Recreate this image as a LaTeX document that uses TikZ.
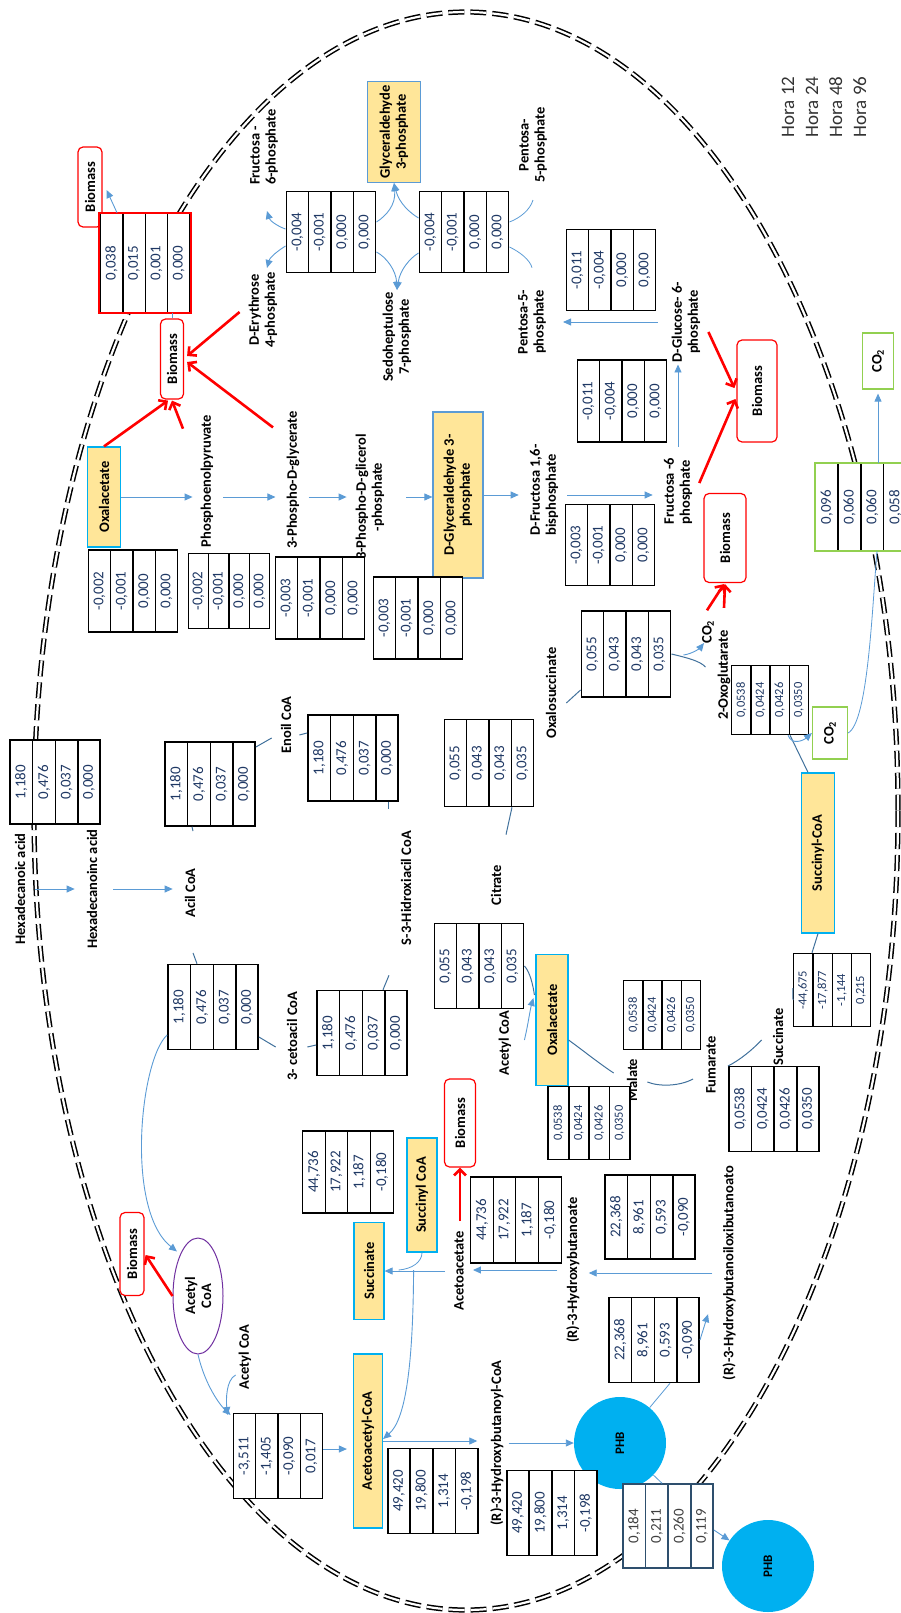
\documentclass[tikz,border=0pt]{standalone}
\usepackage{fontspec}
\setmainfont{Carlito}
\usepackage{tikz}
\usetikzlibrary{shapes,arrows.meta,calc}

\definecolor{fillyel}{HTML}{FFE699}
\definecolor{cyanb}{HTML}{00B0F0}
\definecolor{lblue}{HTML}{5B9BD5}
\definecolor{dblue}{HTML}{41719C}
\definecolor{grn}{HTML}{92D050}
\definecolor{purp}{HTML}{7030A0}
\definecolor{numcol}{HTML}{1F3864}

\newcommand{\lblfnt}{\fontsize{14.5}{16}\selectfont\bfseries}
\newcommand{\numfnt}{\fontsize{15}{17}\selectfont}
\newcommand{\smnumfnt}{\fontsize{12.5}{14}\selectfont}

\begin{document}
\begin{tikzpicture}[x=1pt, y=-1pt,
    lbl/.style={rotate=90, font=\lblfnt, align=center, inner sep=2pt},
    ybox/.style={rotate=90, draw=cyanb, line width=1.2pt, fill=fillyel, font=\lblfnt,
                 align=center, inner sep=1pt},
    bio/.style={rotate=90, draw=red, line width=1.2pt, rounded corners=5pt, fill=white,
                font=\lblfnt, inner sep=1pt},
    co2box/.style={rotate=90, draw=grn, line width=1.2pt, fill=white, font=\lblfnt, inner sep=1pt},
    tab/.style={rectangle split, rectangle split parts=4, draw, line width=1.5pt, rotate=90,
                fill=white, font=\numfnt, text=numcol, minimum width=84pt,
                inner ysep=4.6pt, inner xsep=1pt},
    stab/.style={tab, font=\smnumfnt, minimum width=70pt, inner ysep=3.9pt},
    phb/.style={circle, fill=cyanb, minimum size=92pt, rotate=90, font=\bfseries\fontsize{13}{15}\selectfont},
    cellwall/.style={double, double distance=2.2pt, line width=1.5pt, dash pattern=on 16pt off 6pt},
    barrow/.style={draw=lblue, line width=0.9pt, -{Triangle[length=8pt,width=7pt]}},
    bline/.style={draw=lblue, line width=0.8pt},
    dline/.style={draw=dblue, line width=1pt},
    rarrow/.style={draw=red, line width=2.6pt, -{Straight Barb[length=6pt,width=12pt]}}
]
\useasboundingbox (0,0) rectangle (901,1613);

%% ── Cell wall ────────────────────────────────────────────────────
\draw[cellwall] (466,811) ellipse [x radius=432, y radius=799];

%% ── Legend ───────────────────────────────────────────────────────
\node[lbl, font=\fontsize{19}{24}\selectfont, text=black!80, align=left] (hora) at (824,107)
    {Hora 12\\Hora 24\\Hora 48\\Hora 96};

%% ── Metabolites (labels) ─────────────────────────────────────────
\node[lbl] (hexa1) at (20,889) {Hexadecanoic acid};
\node[lbl] (hexa2) at (92,889) {Hexadecanoinc acid};
\node[lbl] (acil) at (190,893) {Acil CoA};
\node[lbl] (enoil) at (286,725) {Enoil CoA};
\node[lbl] (cetoacil) at (292,1036) {3- cetoacil CoA};
\node[lbl] (shidrox) at (406,888) {S-3-Hidroxiacil CoA};
\node[lbl] (citrate) at (496,885) {Citrate};
\node[lbl] (oxsucc) at (551,693) {Oxalosuccinate};
\node[lbl] (oxoglu) at (724,675) {2-Oxoglutarate};
\node[lbl] (co2a) at (708,632) {CO\textsubscript{2}};
\node[lbl] (malate) at (632,1080) {Malate};
\node[lbl] (fumarate) at (711,1065) {Fumarate};
\node[lbl] (succlbl) at (778,1037) {Succinate};
\node[lbl] (acetylmid) at (505,1043) {Acetyl CoA};
\node[lbl] (pep) at (207,481) {Phosphoenolpyruvate};
\node[lbl] (pg3) at (293,480) {3-Phospho-D-glycerate};
\node[lbl] (pglic) at (370,497) {3-Phospho-D-glicerol\\-phosphate};
\node[lbl, align=left] (fbp) at (544,490) {D-Fructosa 1,6-\\bisphosphate};
\node[lbl, align=left] (f6p) at (678,491) {Fructosa -6\\phosphate};
\node[lbl] (g6p) at (686,322) {D-Glucose- 6-\\phosphate};
\node[lbl] (p5pa) at (532,322) {Pentosa-5-\\phosphate};
\node[lbl] (p5pb) at (533,145) {Pentosa-\\5-phosphate};
\node[lbl] (sed7p) at (397,337) {Sedoheptulose\\7-phosphate};
\node[lbl, align=left] (fru6p) at (264,147) {Fructosa -\\6-phosphate};
\node[lbl] (ery4p) at (263,310) {D-Erythrose\\4-phosphate};
\node[lbl] (acetoacetate) at (459,1271) {Acetoacetate};
\node[lbl] (r3hb) at (573,1270) {(R)-3-Hydroxybutanoate};
\node[lbl] (r3hbox) at (729,1273) {(R)-3-Hydroxybutanoiloxibutanoato};
\node[lbl] (r3hbcoa) at (497,1443) {(R)-3-Hydroxybutanoyl-CoA};
\node[lbl] (acetylbot) at (245,1357) {Acetyl CoA};

%% ── Key metabolites (boxes) ──────────────────────────────────────
\node[ybox, draw=lblue, minimum width=101pt, minimum height=53pt] (g3p) at (394,132) {Glyceraldehyde\\3-phosphate};
\node[ybox, minimum width=100pt, minimum height=33pt] (oxa1) at (104,497) {Oxalacetate};
\node[ybox, draw=lblue, minimum width=166pt, minimum height=50pt] (dg3p) at (458,495) {D-Glyceraldehyde 3-\\phosphate};
\node[ybox, minimum width=131pt, minimum height=32pt] (oxa2) at (552,1020) {Oxalacetate};
\node[ybox, minimum width=160pt, minimum height=33pt] (succoa) at (818,853) {Succinyl-CoA};
\node[ybox, minimum width=114pt, minimum height=30pt] (succoa2) at (422,1195) {Succinyl CoA};
\node[ybox, minimum width=97pt, minimum height=30pt] (succ) at (369,1271) {Succinate};
\node[ybox, minimum width=174pt, minimum height=29pt] (aacoa) at (368,1441) {Acetoacetyl-CoA};

\node[ellipse, draw=purp, line width=1pt, rotate=90, minimum width=116pt, minimum height=50pt,
      align=center, font=\lblfnt, inner sep=0pt] (acetyl) at (198,1296) {Acetyl\\CoA};
\node[phb] (phb1) at (620,1443) {PHB};
\node[phb] (phb2) at (768,1566) {PHB};

%% ── Biomass and CO2 sinks ────────────────────────────────────────
\node[bio, minimum width=80pt, minimum height=24pt] (bm1) at (90,187) {Biomass};
\node[bio, minimum width=80pt, minimum height=23pt] (bm2) at (172,359) {Biomass};
\node[bio, minimum width=102pt, minimum height=40pt] (bm3) at (757,391) {Biomass};
\node[bio, minimum width=89pt, minimum height=42pt] (bm4) at (725,538) {Biomass};
\node[bio, minimum width=88pt, minimum height=31pt] (bm5) at (460,1123) {Biomass};
\node[bio, minimum width=83pt, minimum height=24pt] (bm6) at (132,1254) {Biomass};
\node[co2box, minimum width=56pt, minimum height=31pt] (co2b) at (878,361) {CO\textsubscript{2}};
\node[co2box, minimum width=52pt, minimum height=35pt] (co2c) at (830,733) {CO\textsubscript{2}};

%% ── Flux tables (h 12 / 24 / 48 / 96) ────────────────────────────
\node[tab, minimum width=99pt] (tBm) at (145,263) {0,038\nodepart{two}0,015\nodepart{three}0,001\nodepart{four}0,000};
\draw[red, line width=1.6pt] (tBm.north west) rectangle (tBm.south east);
\node[tab, minimum width=81pt] (tF6) at (331,232) {-0,004\nodepart{two}-0,001\nodepart{three}0,000\nodepart{four}0,000};
\node[tab, minimum width=81pt] (tS7) at (464,232) {-0,004\nodepart{two}-0,001\nodepart{three}0,000\nodepart{four}0,000};
\node[tab, minimum width=81pt] (tP5) at (611,270) {-0,011\nodepart{two}-0,004\nodepart{three}0,000\nodepart{four}0,000};
\node[tab, minimum width=82pt] (tG6) at (622,401) {-0,011\nodepart{two}-0,004\nodepart{three}0,000\nodepart{four}0,000};
\node[tab, minimum width=82pt] (tOxa) at (133,591) {-0,002\nodepart{two}-0,001\nodepart{three}0,000\nodepart{four}0,000};
\node[tab, minimum width=75pt, inner ysep=3.6pt] (tPep) at (229,591) {-0,002\nodepart{two}-0,001\nodepart{three}0,000\nodepart{four}0,000};
\node[tab, minimum width=82pt] (t3pg) at (320,598) {-0,003\nodepart{two}-0,001\nodepart{three}0,000\nodepart{four}0,000};
\node[tab, minimum width=82pt] (tDg3p) at (418,618) {-0,003\nodepart{two}-0,001\nodepart{three}0,000\nodepart{four}0,000};
\node[tab, minimum width=81pt] (tFbp) at (610,545) {-0,003\nodepart{two}-0,001\nodepart{three}0,000\nodepart{four}0,000};
\node[tab] (tHexa) at (55,782) {1,180\nodepart{two}0,476\nodepart{three}0,037\nodepart{four}0,000};
\node[tab] (tEnoil) at (210,784) {1,180\nodepart{two}0,476\nodepart{three}0,037\nodepart{four}0,000};
\node[tab, minimum width=86pt] (tShid) at (353,758) {1,180\nodepart{two}0,476\nodepart{three}0,037\nodepart{four}0,000};
\node[tab, minimum width=87pt] (tCit) at (489,763) {0,055\nodepart{two}0,043\nodepart{three}0,043\nodepart{four}0,035};
\node[tab, minimum width=86pt] (tOxs) at (626,654) {0,055\nodepart{two}0,043\nodepart{three}0,043\nodepart{four}0,035};
\node[stab, minimum width=69pt] (tOxg) at (770,700) {0,0538\nodepart{two}0,0424\nodepart{three}0,0426\nodepart{four}0,0350};
\node[tab, minimum width=87pt] (tGreen) at (861,507) {0,096\nodepart{two}0,060\nodepart{three}0,060\nodepart{four}0,058};
\draw[grn, line width=1.6pt] (tGreen.north west) rectangle (tGreen.south east);
\node[tab, minimum width=85pt] (tAcil) at (213,1007) {1,180\nodepart{two}0,476\nodepart{three}0,037\nodepart{four}0,000};
\node[tab, minimum width=85pt] (tCeto) at (362,1033) {1,180\nodepart{two}0,476\nodepart{three}0,037\nodepart{four}0,000};
\node[tab, minimum width=85pt] (tCitb) at (479,966) {0,055\nodepart{two}0,043\nodepart{three}0,043\nodepart{four}0,035};
\node[stab, minimum width=73pt, inner ysep=4.5pt] (tMal) at (589,1123) {0,0538\nodepart{two}0,0424\nodepart{three}0,0426\nodepart{four}0,0350};
\node[stab, minimum width=69pt] (tFum) at (662,1015) {0,0538\nodepart{two}0,0424\nodepart{three}0,0426\nodepart{four}0,0350};
\node[stab, minimum width=73pt] (tSucc) at (832,990) {-44,675\nodepart{two}-17,877\nodepart{three}-1,144\nodepart{four}0,215};
\node[tab, minimum width=85pt] (tSuc2) at (774,1109) {0,0538\nodepart{two}0,0424\nodepart{three}0,0426\nodepart{four}0,0350};
\node[tab, minimum width=82pt] (tScoa) at (348,1172) {44,736\nodepart{two}17,922\nodepart{three}1,187\nodepart{four}-0,180};
\node[tab, minimum width=86pt] (tAa) at (516,1220) {44,736\nodepart{two}17,922\nodepart{three}1,187\nodepart{four}-0,180};
\node[tab] (tHb) at (650,1217) {22,368\nodepart{two}8,961\nodepart{three}0,593\nodepart{four}-0,090};
\node[tab, minimum width=85pt] (tHbo) at (654,1340) {22,368\nodepart{two}8,961\nodepart{three}0,593\nodepart{four}-0,090};
\node[tab, minimum width=85pt] (tAcet) at (278,1456) {-3,511\nodepart{two}-1,405\nodepart{three}-0,090\nodepart{four}0,017};
\node[tab, minimum width=85pt] (tAacoa) at (433,1491) {49,420\nodepart{two}19,800\nodepart{three}1,314\nodepart{four}-0,198};
\node[tab, minimum width=85pt] (tHbcoa) at (552,1513) {49,420\nodepart{two}19,800\nodepart{three}1,314\nodepart{four}-0,198};
\node[tab, draw=dblue!70!black, text=black!75] (tPhb) at (668,1526) {0,184\nodepart{two}0,211\nodepart{three}0,260\nodepart{four}0,119};

%% ── Free arrow ends ──────────────────────────────────────────────
\coordinate (tipFru) at (267,211);

%% ── Pentose phosphate / glycolysis ───────────────────────────────
\draw[barrow] ($(tF6.north)+(0,-3)$) .. controls (279,227) and (270,221) .. (tipFru);
\draw[barrow] ($(tF6.north)+(0,14)$) .. controls (279,250) and (270,257) .. ($(ery4p.east)+(4,-2)$);
\draw[barrow] ($(tF6.south)+(0,-10)$) .. controls (386,216) and (396,205) .. (g3p.west);
\draw[barrow] ($(tS7.north)+(0,-14)$) .. controls (410,213) and (399,203) .. (g3p.west);
\draw[barrow] ($(tF6.south)+(0,20)$) .. controls (386,257) and (396,270) .. (sed7p.east);
\draw[barrow] ($(tS7.north)+(0,21)$) .. controls (410,258) and (400,270) .. (sed7p.east);
\draw[bline] ($(tS7.south)+(0,-10)$) .. controls (520,218) and (530,210) .. ($(p5pb.west)+(0,15)$);
\draw[bline] ($(tS7.south)+(0,15)$) .. controls (520,252) and (530,260) .. ($(p5pa.east)+(0,-20)$);
\draw[barrow] ($(tBm.east)+(-28,0)$) -- ($(bm1.south)+(4,3)$);
\draw[bline] ($(tBm.west)+(27,0)$) -- (bm2.east);

\draw[barrow, shorten >=6pt] (oxa1.south) -- (oxa1.south -| pep.north);
\draw[barrow, shorten <=8pt, shorten >=9pt] (pep.south |- oxa1) -- (pg3.north |- oxa1);
\draw[barrow, shorten <=7pt, shorten >=7pt] (pg3.south |- oxa1) -- (pglic.north |- oxa1);
\draw[barrow, shorten <=20pt] (pglic.south |- oxa1) -- (dg3p.north |- oxa1);
\draw[barrow, shorten >=9pt] (dg3p.south) -- (dg3p.south -| fbp.north);
\draw[barrow, shorten <=7pt, shorten >=9pt] (fbp.south |- dg3p) -- (f6p.north |- dg3p);
\draw[barrow, shorten <=9pt] (f6p.east) -- (f6p.east |- g6p.west);
\draw[barrow, shorten <=12pt, shorten >=15pt] (g6p.north) -- (g6p.north -| p5pa.south);

%% ── Fatty acid degradation ───────────────────────────────────────
\draw[barrow, shorten <=8pt, shorten >=10pt] (hexa1.south) -- (hexa1.south -| hexa2.north);
\draw[barrow, shorten <=14pt, shorten >=10pt] (hexa2.south) -- (hexa2.south -| acil.north);
\draw[dline] ($(tEnoil.west)+(-18,0)$) -- ($(acil.east)+(3,-35)$);
\draw[dline] ($(tEnoil.south)+(0,-37)$) -- ($(enoil.north)+(-7,13)$);
\draw[dline] ($(enoil.south)+(6,10)$) -- ($(tShid.north)+(0,-25)$);
\draw[dline] ($(tShid.west)+(35,0)$) -- ($(shidrox.east)+(-18,-20)$);
\draw[dline] ($(shidrox.west)+(-17,28)$) -- ($(tCeto.east)+(21,0)$);
\draw[dline] ($(cetoacil.south)+(8,11)$) -- ($(tCeto.north)+(0,12)$);
\draw[dline] ($(tAcil.south)+(0,30)$) -- ($(cetoacil.north)+(-9,11)$);
\draw[dline] ($(acil.west)+(3,33)$) -- ($(tAcil.east)+(-16,0)$);
\draw[barrow] ($(tAcil.north)+(0,28)$) .. controls (140,1060) and (125,1210) .. ($(acetyl.east)+(-21,14)$);

%% ── TCA cycle ────────────────────────────────────────────────────
\draw[dline] ($(tCit.west)+(23,0)$) -- ($(citrate.east)+(10,-28)$);
\draw[dline] ($(oxsucc.south)+(8,10)$) -- ($(tOxs.north)+(0,36)$);
\draw[dline] (tOxs.south) .. controls (688,658) and (700,661) .. ($(oxoglu.north)+(-10,-8)$);
\draw[barrow] ($(tOxs.south)+(12,1)$) .. controls (692,654) and (700,648) .. ($(co2a.north)+(4,11)$);
\draw[dline] ($(tOxg.west)+(20,0)$) -- ($(succoa.east)+(-10,0)$);
\draw[barrow] ($(tOxg.west)+(18,0)$) .. controls (792,746) and (804,740) .. (co2c.north);
\draw[bline] (co2c.south) .. controls (868,722) and (872,610) .. ($(tGreen.west)+(16,0)$);
\draw[barrow] ($(tGreen.east)+(17,0)$) -- ($(co2b.west)+(0,4)$);
\draw[dline] ($(tSucc.east)+(-20,0)$) -- (succoa.west);
\draw[dline] ($(succlbl.east)+(15,-6)$) -- ($(tSucc.north)+(0,-2)$);
\draw[dline] ($(fumarate.south)+(10,1)$) .. controls (740,1060) and (752,1050) .. ($(succlbl.north)+(-9,3)$);
\draw[dline] ($(malate.south)+(8,2)$) .. controls (660,1087) and (680,1086) .. ($(fumarate.north)+(-11,14)$);
\draw[dline] ($(oxa2.south)+(0,20)$) .. controls (585,1052) and (600,1064) .. ($(malate.north)+(-11,-7)$);
\draw[dline] (tCitb.south) .. controls (530,972) and (533,985) .. ($(oxa2.north)+(-1,-25)$);
\draw[barrow] ($(acetylmid.south)+(11,-3)$) .. controls (528,1025) and (530,1010) .. ($(oxa2.north)+(-2,-22)$);

%% ── PHB cycle ────────────────────────────────────────────────────
\draw[barrow] (acetyl.west) .. controls (205,1385) and (220,1405) .. ($(tAcet.north)+(-2,-41)$);
\draw[barrow] ($(acetylbot.north)+(-1,18)$) .. controls (226,1380) and (226,1400) .. ($(tAcet.north)+(-5,-41)$);
\draw[barrow] ($(tAcet.south)+(0,-7)$) -- ($(aacoa.north)+(-6,8)$);
\draw[barrow, shorten >=11pt] (aacoa.south) -- (aacoa.south -| r3hbcoa.north);
\draw[barrow, shorten <=3pt] (r3hbcoa.south) -- (phb1);
\draw[bline] (phb1) -- ($(tHbo.west)+(16,0)$);
\draw[barrow] (tHbo.south) -- ($(r3hbox.west)+(-21,-68)$);
\draw[barrow, shorten <=8pt, shorten >=7pt] (r3hbox.north) -- (r3hbox.north -| r3hb.south);
\draw[barrow, shorten <=7pt, shorten >=7pt] (r3hb.north) -- (r3hb.north -| acetoacetate.south);
\draw[barrow, shorten <=7pt] (acetoacetate.north) -- (acetoacetate.north -| succ.south);
\draw[bline] (succoa2.west) .. controls (422,1262) and (412,1269) .. ($(succ.south)+(14,-1)$);
\draw[barrow] ($(succ.south)+(29,-1)$) .. controls (413,1370) and (405,1420) .. ($(aacoa.south)+(0,-2)$);
\draw[bline] (phb1) -- ($(tPhb.east)+(-6,0)$);
\draw[barrow] ($(tPhb.south)+(0,4)$) -- (phb2);

%% ── Drains to biomass ────────────────────────────────────────────
\draw[rarrow] (oxa1.east) -- ($(bm2.west)+(-4,1)$);
\draw[rarrow] ($(pep.east)+(-24,16)$) -- ($(bm2.west)+(0,1)$);
\draw[rarrow] ($(pg3.east)+(-20,18)$) -- ($(bm2.south)+(3,3)$);
\draw[rarrow] ($(ery4p.north)+(-7,2)$) -- ($(bm2.south)+(3,-3)$);
\draw[rarrow] ($(g6p.south)+(6,10)$) -- ($(bm3.north)+(-2,-3)$);
\draw[rarrow] ($(f6p.south)+(5,-8)$) -- ($(bm3.north)+(-1,8)$);
\draw[rarrow] ($(co2a.east)+(-1,-8)$) -- ($(bm4.west)+(-1,1)$);
\draw[rarrow] ($(oxoglu.east)+(0,-20)$) -- ($(bm4.west)+(0,1)$);
\draw[rarrow] ($(acetoacetate.east)+(1,-8)$) -- (bm5.west);
\draw[rarrow] (acetyl.north) -- ($(bm6.south)+(1,1)$);

\end{tikzpicture}
\end{document}
